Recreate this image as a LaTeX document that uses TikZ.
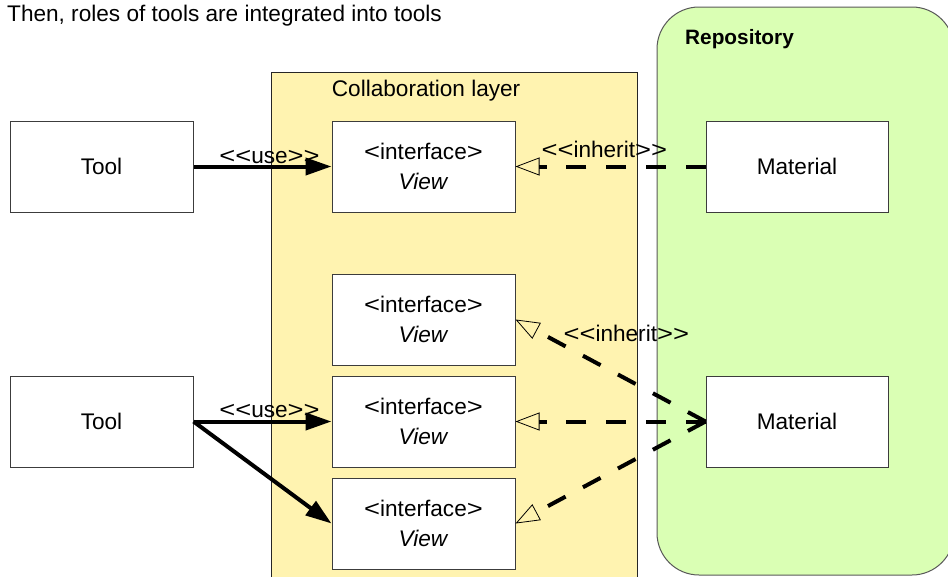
\documentclass[tikz,border=0pt]{standalone}
\usepackage{fontspec}
\usepackage{graphicx}
\setmainfont[Ligatures={NoCommon}]{Liberation Sans}
\usetikzlibrary{arrows.meta}
\definecolor{layeryellow}{RGB}{255,243,176}
\definecolor{repogreen}{RGB}{218,255,180}
\definecolor{boxline}{RGB}{60,60,60}
\newcommand\ltsym{\scalebox{1.21}[1]{<}}
\newcommand\gtsym{\scalebox{1.21}[1]{>}}
\begin{document}
\begin{tikzpicture}[x=1pt,y=-1pt,
  font=\fontsize{22.6}{29.5}\selectfont,
  box/.style={draw=boxline, line width=1pt, fill=white, minimum width=183pt,
    minimum height=91pt, inner sep=0pt, align=center},
  lbl/.style={anchor=base, inner sep=0pt},
  usearrow/.style={line width=4pt, -{Triangle[length=26pt,width=17pt]}},
  inharrow/.style={line width=4pt, dash pattern=on 20pt off 19.7pt,
    -{Triangle[open,length=24pt,width=18pt,line width=0.8pt]}}]
\useasboundingbox (0,0) rectangle (948,576);
\begin{scope}
  \clip (0,0) rectangle (948,576);
  \draw[draw=black!65, fill=repogreen, line width=1pt, rounded corners=42pt]
    (657,7) rectangle (954,575);
  \draw[draw=black!85, fill=layeryellow, line width=1pt]
    (271.7,72.3) rectangle (637.7,590);
\end{scope}
\node[anchor=base west, inner sep=0pt] (title) at (7,21)
  {Then, roles of tools are integrated into tools};
\node[anchor=base west, inner sep=0pt] (layer) at (331.7,96) {Collaboration layer};
\node[anchor=base west, inner sep=0pt, font=\fontsize{20.8}{25}\selectfont\bfseries]
  (repo) at (685,44.3) {Repository};

\node[box] (tool1) at (101.5,166.5) {Tool};
\node[box] (tool2) at (101.5,421.5) {Tool};
\node[box] (viewA) at (423.5,166.5) {\ltsym{}interface\gtsym\\\textit{View}};
\node[box] (viewB) at (423.5,319.5) {\ltsym{}interface\gtsym\\\textit{View}};
\node[box] (viewC) at (423.5,421.5) {\ltsym{}interface\gtsym\\\textit{View}};
\node[box] (viewD) at (423.5,523.5) {\ltsym{}interface\gtsym\\\textit{View}};
\node[box, minimum width=182pt] (mat1) at (797,166.5) {Material};
\node[box, minimum width=182pt] (mat2) at (797,421.5) {Material};

\draw[usearrow] (tool1.east) -- (viewA.west);
\draw[usearrow] (tool2.east) -- (viewC.west);
\draw[usearrow] (tool2.east) -- (viewD.west);
\draw[inharrow] (mat1.west) -- (viewA.east);
\draw[inharrow] (mat2.west) -- (viewB.east);
\draw[inharrow] (mat2.west) -- (viewC.east);
\draw[inharrow] (mat2.west) -- (viewD.east);

\node[lbl] (use1) at (269.5,163) {\ltsym\ltsym{}use\gtsym\gtsym};
\node[lbl] (use2) at (269.5,417.3) {\ltsym\ltsym{}use\gtsym\gtsym};
\node[lbl] (inh1) at (604.3,157) {\ltsym\ltsym{}inherit\gtsym\gtsym};
\node[lbl] (inh2) at (626.3,341.7) {\ltsym\ltsym{}inherit\gtsym\gtsym};
\end{tikzpicture}
\end{document}
